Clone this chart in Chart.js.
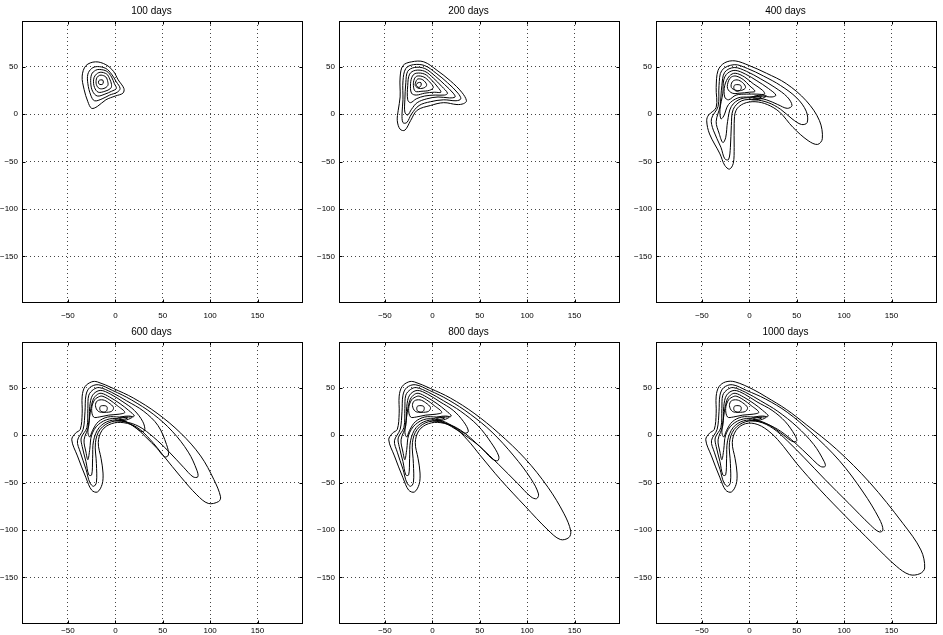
<!DOCTYPE html>
<html>
<head>
<meta charset="utf-8">
<script src="https://cdn.jsdelivr.net/npm/chart.js@4.4.0/dist/chart.umd.min.js"></script>
<style>
  body { margin: 0; background: #fff; width: 943px; height: 635px; position: relative; overflow: hidden; }
  canvas { position: absolute; }
</style>
</head>
<body>
<canvas id="p0" width="306" height="320" style="left:0px;top:1px"></canvas>
<canvas id="p1" width="306" height="320" style="left:317px;top:1px"></canvas>
<canvas id="p2" width="306" height="320" style="left:634px;top:1px"></canvas>
<canvas id="p3" width="306" height="320" style="left:0px;top:322px"></canvas>
<canvas id="p4" width="306" height="320" style="left:317px;top:322px"></canvas>
<canvas id="p5" width="306" height="320" style="left:634px;top:322px"></canvas>
<script>
// panel titles and axis ticks
const titles = ['100 days', '200 days', '400 days', '600 days', '800 days', '1000 days'];
const xTicks = [-50, 0, 50, 100, 150];
const yTicks = [-150, -100, -50, 0, 50];
const xLimits = [-98.5, 198];
const yLimits = [-199, 98];

// contour lines, one list of [x, y] per closed level, outermost first
const days100 = [
  [[-21,55],[-10,52],[-2,45],[3,36],[9,27],[8,22],[0,19],[-10,15],[-19,8],[-25,6],[-29,13],[-33,26],[-35,40],[-31,51]],
  [[-19,50],[-10,48],[-4,42],[1,34],[5,27],[2,23],[-6,20],[-14,16],[-22,14],[-26,20],[-29,32],[-29,42],[-25,48]],
  [[-17,47],[-9,45],[-4,39],[-1,32],[1,27],[-4,24],[-11,21],[-19,19],[-24,24],[-26,33],[-25,42],[-21,46]],
  [[-16,44],[-9,42],[-6,37],[-4,31],[-5,27],[-11,24],[-18,23],[-22,28],[-23,36],[-21,41]],
  [[-15,41],[-10,39],[-8,34],[-8,30],[-12,27],[-17,27],[-20,31],[-20,37],[-18,40]],
  [[-15.5,36],[-13,35.5],[-13,32],[-15,31],[-17.5,32],[-17.5,35]]
];

const days200 = [
  [[-22,55],[-9,55],[5,46],[19,35],[31,23],[36,14],[33,11],[26,10],[12,12],[-2,9],[-16,4],[-23,-7],[-29,-17],[-34,-16],[-37,-7],[-36,4],[-34,18],[-34,39],[-31,51]],
  [[-20,52],[-8,51],[4,43],[16,33],[27,22],[30,16],[25,14],[12,15],[-2,13],[-14,9],[-22,0],[-27,-9],[-31,-9],[-32,0],[-31,15],[-31,35],[-28,48]],
  [[-19,49],[-8,48],[3,40],[13,31],[22,22],[24,18],[18,17],[6,18],[-6,16],[-16,12],[-22,5],[-26,-1],[-29,2],[-29,15],[-28,33],[-26,45]],
  [[-18,46],[-8,45],[1,38],[10,29],[16,22],[13,20],[3,20],[-8,19],[-17,16],[-23,12],[-26,15],[-26,30],[-24,42]],
  [[-17,43],[-8,42],[-1,36],[6,28],[9,23],[2,23],[-8,22],[-17,20],[-22,22],[-23,32],[-21,40]],
  [[-16,40],[-9,39],[-3,34],[1,28],[-3,25],[-11,24],[-18,24],[-20,30],[-19,37]],
  [[-15,37],[-10,36],[-6,31],[-8,28],[-14,27],[-18,30],[-17,35]],
  [[-15,33],[-12,33],[-12,30],[-14,28],[-16,29],[-17,31]]
];

const days400 = [
  [[-15,56],[0,51],[18,43],[39,32],[60,14],[74,-7],[77,-26],[72,-32],[62,-28],[46,-14],[32,2],[19,10],[6,13],[-6,11],[-14,4],[-16,-10],[-16,-35],[-17,-52],[-21,-58],[-26,-54],[-31,-42],[-42,-21],[-45,-7],[-43,-1],[-35,7],[-35,28],[-33,46],[-26,54]],
  [[-16,52],[-2,48],[15,40],[33,30],[50,17],[60,3],[61,-9],[55,-11],[45,-5],[33,5],[20,12],[6,15],[-8,14],[-17,5],[-19,-12],[-20,-35],[-22,-48],[-26,-47],[-30,-35],[-38,-17],[-40,-5],[-33,8],[-32,30],[-29,46]],
  [[-16,49],[-3,45],[12,37],[27,28],[40,18],[45,9],[40,6],[30,10],[18,15],[5,17],[-9,16],[-19,8],[-23,-8],[-25,-25],[-28,-30],[-32,-20],[-35,-8],[-31,8],[-29,30],[-26,44]],
  [[-15,46],[-4,42],[8,35],[20,27],[28,20],[24,18],[12,19],[0,18],[-12,17],[-22,10],[-27,-2],[-30,-5],[-31,5],[-28,22],[-27,36],[-23,43]],
  [[-15,43],[-5,39],[4,32],[14,25],[16,21],[8,21],[-3,21],[-14,20],[-22,15],[-26,18],[-26,30],[-21,40]],
  [[-14,40],[-6,36],[0,30],[6,24],[0,23],[-10,22],[-18,22],[-23,27],[-22,35],[-19,39]],
  [[-13,36],[-7,33],[-4,28],[-8,25],[-14,25],[-19,28],[-18,34]],
  [[-13,31],[-9,30],[-9,26],[-13,24],[-16,26],[-16,30]],
  [[0,16],[6,19],[14,20],[18,19],[12,16],[4,15]],
  [[4,17],[9,18.5],[13,18],[8,16.5]]
];

const days600 = [
  [[-19,56],[-2,49],[19,39],[44,23],[69,2],[90,-22],[104,-47],[111,-65],[109,-70],[98,-72],[86,-63],[69,-44],[51,-22],[37,-5],[23,8],[9,13],[-4,12],[-14,5],[-18,-8],[-15,-25],[-13,-40],[-14,-52],[-19,-60],[-25,-58],[-31,-45],[-40,-22],[-46,-5],[-42,2],[-37,6],[-35,23],[-35,41],[-32,51],[-25,56]],
  [[-18,53],[-3,47],[17,37],[40,22],[60,4],[77,-18],[86,-37],[87,-44],[82,-44],[72,-34],[56,-17],[40,-2],[25,9],[10,14],[-4,14],[-16,6],[-21,-8],[-20,-30],[-20,-50],[-23,-54],[-27,-50],[-31,-36],[-37,-18],[-40,-6],[-34,6],[-32,25],[-31,42],[-27,50]],
  [[-17,50],[-4,45],[12,36],[30,25],[45,10],[54,-10],[56,-21],[52,-23],[44,-14],[32,-2],[20,9],[7,15],[-6,15],[-17,8],[-23,-6],[-24,-25],[-25,-42],[-28,-42],[-31,-28],[-35,-12],[-36,-3],[-30,8],[-29,28],[-28,42],[-23,48]],
  [[-16,47],[-5,43],[8,35],[20,26],[29,14],[31,5],[27,4],[18,10],[7,16],[-6,17],[-18,11],[-25,0],[-27,-15],[-29,-26],[-31,-18],[-33,-5],[-28,10],[-27,30],[-24,42]],
  [[-15,44],[-6,40],[5,33],[14,26],[20,20],[14,19],[4,19],[-8,19],[-18,14],[-24,5],[-27,-2],[-29,3],[-27,20],[-24,36],[-20,42]],
  [[-14,41],[-6,37],[2,31],[10,24],[4,22],[-7,21],[-17,19],[-23,19],[-25,28],[-22,37],[-18,40]],
  [[-13,37],[-7,34],[-2,29],[-4,25],[-11,24],[-18,25],[-21,31],[-19,36]],
  [[-13,31],[-9,30],[-9,26],[-12,24],[-16,26],[-16,30]],
  [[0,16],[6,19],[14,20],[18,19],[12,16],[4,15]],
  [[4,17],[9,18.5],[13,18],[8,16.5]]
];

const days800 = [
  [[-19,56],[-2,49],[19,39],[44,23],[70,2],[98,-25],[122,-55],[139,-83],[146,-101],[144,-108],[135,-110],[122,-100],[98,-75],[72,-47],[51,-22],[37,-5],[23,8],[9,13],[-4,12],[-14,5],[-18,-8],[-15,-25],[-13,-40],[-14,-52],[-19,-60],[-25,-58],[-31,-45],[-40,-22],[-46,-5],[-42,2],[-37,6],[-35,23],[-35,41],[-32,51],[-25,56]],
  [[-18,53],[-3,47],[17,37],[40,22],[63,3],[86,-22],[104,-46],[112,-62],[110,-67],[104,-65],[90,-51],[70,-31],[50,-12],[30,5],[12,13],[-4,14],[-16,6],[-21,-8],[-20,-30],[-20,-50],[-23,-54],[-27,-50],[-31,-36],[-37,-18],[-40,-6],[-34,6],[-32,25],[-31,42],[-27,50]],
  [[-17,50],[-4,45],[12,36],[30,25],[48,10],[62,-8],[70,-22],[69,-27],[63,-25],[50,-12],[34,0],[20,9],[7,15],[-6,15],[-17,8],[-23,-6],[-24,-25],[-25,-42],[-28,-42],[-31,-28],[-35,-12],[-36,-3],[-30,8],[-29,28],[-28,42],[-23,48]],
  [[-16,47],[-5,43],[8,35],[22,26],[33,14],[38,4],[34,2],[24,8],[10,15],[-6,17],[-18,11],[-25,0],[-27,-15],[-29,-26],[-31,-18],[-33,-5],[-28,10],[-27,30],[-24,42]],
  [[-15,44],[-6,40],[5,33],[14,26],[20,20],[14,19],[4,19],[-8,19],[-18,14],[-24,5],[-27,-2],[-29,3],[-27,20],[-24,36],[-20,42]],
  [[-14,41],[-6,37],[2,31],[10,24],[4,22],[-7,21],[-17,19],[-23,19],[-25,28],[-22,37],[-18,40]],
  [[-13,37],[-7,34],[-2,29],[-4,25],[-11,24],[-18,25],[-21,31],[-19,36]],
  [[-13,31],[-9,30],[-9,26],[-12,24],[-16,26],[-16,30]],
  [[0,16],[6,19],[14,20],[18,19],[12,16],[4,15]],
  [[4,17],[9,18.5],[13,18],[8,16.5]]
];

const days1000 = [
  [[-15,56],[4,48],[18,40],[39,27],[60,11],[92,-15],[127,-50],[162,-93],[181,-121],[185,-140],[180,-146],[169,-147],[155,-138],[130,-114],[102,-86],[74,-57],[50,-30],[36,-12],[23,2],[9,11],[-4,12],[-14,5],[-18,-8],[-15,-25],[-13,-40],[-14,-52],[-19,-60],[-25,-58],[-31,-45],[-40,-22],[-46,-5],[-42,2],[-37,6],[-35,23],[-35,41],[-32,51],[-25,56]],
  [[-18,53],[-3,47],[17,38],[40,24],[65,3],[95,-27],[120,-60],[137,-88],[141,-100],[137,-102],[128,-95],[105,-72],[80,-47],[58,-24],[40,-6],[25,7],[10,14],[-4,14],[-16,6],[-21,-8],[-20,-30],[-20,-50],[-23,-54],[-27,-50],[-31,-36],[-37,-18],[-40,-6],[-34,6],[-32,25],[-31,42],[-27,50]],
  [[-17,50],[-4,45],[12,36],[30,25],[50,9],[68,-10],[79,-28],[80,-33],[75,-33],[64,-23],[48,-8],[33,4],[20,11],[7,15],[-6,15],[-17,8],[-23,-6],[-24,-25],[-25,-42],[-28,-42],[-31,-28],[-35,-12],[-36,-3],[-30,8],[-29,28],[-28,42],[-23,48]],
  [[-16,47],[-5,43],[8,35],[24,26],[38,14],[48,0],[50,-6],[46,-7],[36,0],[22,10],[7,16],[-6,17],[-18,11],[-25,0],[-27,-15],[-29,-26],[-31,-18],[-33,-5],[-28,10],[-27,30],[-24,42]],
  [[-15,44],[-6,40],[5,33],[14,26],[20,20],[14,19],[4,19],[-8,19],[-18,14],[-24,5],[-27,-2],[-29,3],[-27,20],[-24,36],[-20,42]],
  [[-14,41],[-6,37],[2,31],[10,24],[4,22],[-7,21],[-17,19],[-23,19],[-25,28],[-22,37],[-18,40]],
  [[-13,37],[-7,34],[-2,29],[-4,25],[-11,24],[-18,25],[-21,31],[-19,36]],
  [[-13,31],[-9,30],[-9,26],[-12,24],[-16,26],[-16,30]],
  [[0,16],[6,19],[14,20],[18,19],[12,16],[4,15]],
  [[4,17],[9,18.5],[13,18],[8,16.5]]
];

const panels = [days100, days200, days400, days600, days800, days1000];

Chart.defaults.font.family = "'Liberation Sans', Arial, sans-serif";
Chart.defaults.color = '#000';

// closed smooth curve: wrap three points round and hide the two end segments
function contourDataset(pts) {
  const n = pts.length;
  const data = pts.concat(pts.slice(0, 3)).map(([x, y]) => ({ x, y }));
  return {
    data,
    showLine: true,
    borderColor: '#000',
    borderWidth: 1,
    pointRadius: 0,
    tension: 0.35,
    segment: {
      borderColor: c => (c.p0DataIndex === 0 || c.p1DataIndex === n + 2) ? 'rgba(0,0,0,0)' : undefined
    }
  };
}

// box round the axes, with short inward ticks on every side
const axesBox = {
  id: 'axesBox',
  afterDatasetsDraw(chart) {
    const { ctx, chartArea: a, scales: { x, y } } = chart;
    const l = Math.round(a.left) + 0.5, r = Math.round(a.right) - 0.5;
    const t = Math.round(a.top) + 0.5, b = Math.round(a.bottom) - 0.5;
    ctx.save();
    ctx.strokeStyle = '#000';
    ctx.lineWidth = 1;
    ctx.beginPath();
    xTicks.forEach(v => {
      const px = Math.round(x.getPixelForValue(v)) + 0.5;
      ctx.moveTo(px, b); ctx.lineTo(px, b - 3);
      ctx.moveTo(px, t); ctx.lineTo(px, t + 3);
    });
    yTicks.forEach(v => {
      const py = Math.round(y.getPixelForValue(v)) + 0.5;
      ctx.moveTo(l, py); ctx.lineTo(l + 3, py);
      ctx.moveTo(r, py); ctx.lineTo(r - 3, py);
    });
    ctx.stroke();
    ctx.strokeRect(l, t, r - l, b - t);
    ctx.restore();
  }
};

const tickLabel = v => (v < 0 ? '\u2212' + Math.abs(v) : String(v));

panels.forEach((levels, i) => {
  const lowerRow = i >= 3;
  new Chart(document.getElementById('p' + i), {
    type: 'scatter',
    data: { datasets: levels.map(contourDataset) },
    options: {
      responsive: false,
      animation: false,
      devicePixelRatio: 1,
      layout: { padding: { top: 0, right: 3, bottom: 0, left: 0 } },
      plugins: {
        legend: { display: false },
        tooltip: { enabled: false },
        title: {
          display: true,
          text: titles[i],
          font: { size: 10, weight: 'normal' },
          padding: { top: 4, bottom: 4 }
        }
      },
      scales: {
        x: {
          type: 'linear',
          min: xLimits[0], max: xLimits[1],
          afterBuildTicks: s => { s.ticks = xTicks.map(v => ({ value: v })); },
          afterFit: s => { s.height = 18; },
          ticks: { font: { size: 8 }, padding: lowerRow ? 2 : 8, maxRotation: 0, callback: tickLabel },
          grid: { color: '#444', lineWidth: 1, drawTicks: false },
          border: { display: false, dash: [1, 3] }
        },
        y: {
          type: 'linear',
          min: yLimits[0], max: yLimits[1],
          afterBuildTicks: s => { s.ticks = yTicks.map(v => ({ value: v })); },
          afterFit: s => { s.width = 22; },
          ticks: { font: { size: 8 }, padding: 4, callback: tickLabel },
          grid: { color: '#444', lineWidth: 1, drawTicks: false },
          border: { display: false, dash: [1, 3] }
        }
      }
    },
    plugins: [axesBox]
  });
});
</script>
</body>
</html>
